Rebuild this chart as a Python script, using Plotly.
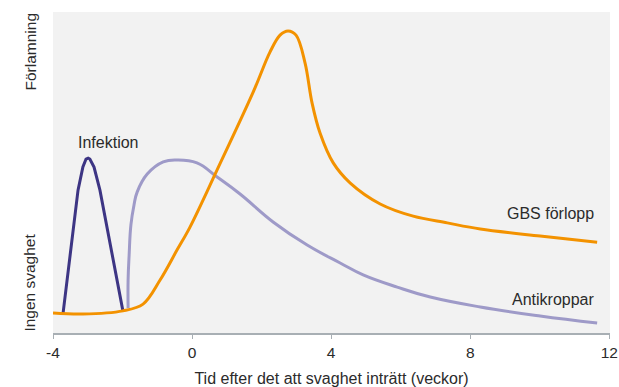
import plotly.graph_objects as go

# Weeks after onset of weakness (x) and relative severity 0..100 (y)
gbs_x = [-4.0, -3.14, -1.99, -1.41, -0.92, -0.43, -0.06, 0.72, 1.76, 2.24, 2.53, 2.76, 2.99, 3.25,
         3.45, 3.68, 4.06, 4.55, 5.41, 6.36, 7.34, 8.29, 10.01, 11.65]
gbs_y = [6.2, 5.9, 6.9, 9.0, 16.5, 25.9, 33.0, 50.8, 75.1, 87.5, 92.8, 94.1, 92.8, 84.1,
         71.7, 62.3, 53.0, 46.7, 40.2, 36.4, 34.3, 32.4, 30.2, 28.3]

inf_x = [-3.71, -3.28, -3.14, -3.05, -2.99, -2.94, -2.82, -2.65, -1.99]
inf_y = [6.2, 44.5, 51.7, 54.2, 54.5, 54.2, 51.7, 44.5, 6.9]

ab_x = [-1.84, -1.84, -1.81, -1.76, -1.67, -1.58, -1.29, -0.83, -0.43, 0.14, 0.72, 1.38, 2.33, 3.31,
        4.26, 4.92, 5.90, 6.85, 8.29, 10.01, 11.65]
ab_y = [7.8, 16.5, 24.3, 33.6, 39.9, 43.9, 49.5, 53.3, 53.9, 53.0, 48.6, 43.3, 34.6, 27.4,
        21.8, 18.1, 14.3, 11.2, 8.1, 5.3, 3.1]

tick_vals = [-4, 0, 4, 8, 12]
tick_text = ["-4", "0", "4", "8", "12"]

ORANGE = "#f39200"
DARK = "#3d3584"
LAV = "#9e9ac8"
TXT = "#2b2b2b"
FONT = "Liberation Sans, Arial, Helvetica, sans-serif"

fig = go.Figure()
fig.add_trace(go.Scatter(x=ab_x, y=ab_y, mode="lines",
                         line=dict(color=LAV, width=3, shape="spline", smoothing=1.2), hoverinfo="skip"))
fig.add_trace(go.Scatter(x=inf_x, y=inf_y, mode="lines",
                         line=dict(color=DARK, width=3), hoverinfo="skip"))
fig.add_trace(go.Scatter(x=gbs_x, y=gbs_y, mode="lines",
                         line=dict(color=ORANGE, width=3, shape="spline", smoothing=1), hoverinfo="skip"))

annots = [
    dict(x=-2.42, y=59.5, xref="x", yref="y", text="Infektion", xanchor="center", yanchor="middle", size=16),
    dict(x=11.63, y=37.1, xref="x", yref="y", text="GBS förlopp", xanchor="right", yanchor="middle", size=16),
    dict(x=11.63, y=10.3, xref="x", yref="y", text="Antikroppar", xanchor="right", yanchor="middle", size=16),
    dict(x=-0.0413, y=0.877, xref="paper", yref="paper", text="Förlamning", textangle=-90,
         xanchor="center", yanchor="middle", size=15.5),
    dict(x=-0.0413, y=0.157, xref="paper", yref="paper", text="Ingen svaghet", textangle=-90,
         xanchor="center", yanchor="middle", size=15.5),
]
for a in annots:
    sz = a.pop("size")
    a.update(showarrow=False, font=dict(size=sz, color=TXT, family=FONT))
    fig.add_annotation(**a)

fig.update_layout(
    width=619, height=387,
    margin=dict(l=53, r=9, t=12, b=54, autoexpand=False),
    paper_bgcolor="white", plot_bgcolor="#f2f2f2",
    showlegend=False,
    font=dict(family=FONT, color=TXT, size=15),
    xaxis=dict(range=[-4, 12.02], tickvals=tick_vals, ticktext=tick_text, showgrid=False, zeroline=False,
               automargin=False,
               showline=True, linecolor="#a8afb4", linewidth=2, ticks="outside", ticklen=4,
               tickcolor="#a8afb4", tickwidth=1, tickfont=dict(size=15.5, color=TXT),
               title=dict(text="Tid efter det att svaghet inträtt (veckor)", font=dict(size=16, color=TXT), standoff=13)),
    yaxis=dict(range=[0, 100], visible=False, fixedrange=True, automargin=False),
)

fig.write_html("out.html", config={"displayModeBar": False},
               post_script="document.body.style.margin='0';")
